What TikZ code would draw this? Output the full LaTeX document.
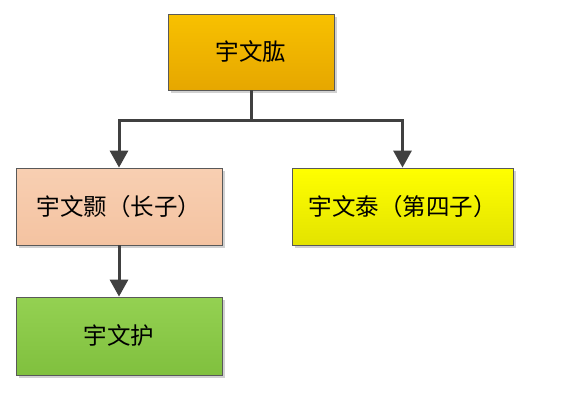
\documentclass[tikz,border=0pt]{standalone}
\usepackage{fontspec}
\setmainfont{Noto Sans CJK SC}
\usetikzlibrary{calc,shapes,shadows,arrows.meta}

\definecolor{toptop}{HTML}{F8C100}
\definecolor{topbot}{HTML}{E6A700}
\definecolor{peachtop}{HTML}{F8CFB2}
\definecolor{peachbot}{HTML}{F4C3A1}
\definecolor{yeltop}{HTML}{FFFF00}
\definecolor{yelbot}{HTML}{E3E300}
\definecolor{greentop}{HTML}{94D152}
\definecolor{greenbot}{HTML}{80C03E}
\definecolor{linkgray}{HTML}{404040}

\tikzset{
  person/.style={rectangle,draw=black!65,line width=0.8pt,inner sep=0pt,
    font=\fontsize{23.5}{23.5}\selectfont,
    drop shadow={shadow xshift=3pt,shadow yshift=-3pt,fill=black!18,opacity=1}},
  link/.style={draw=linkgray,line width=3pt},
  arr/.style={link,-{Triangle[width=18pt,length=17pt]}}
}

\begin{document}
\begin{tikzpicture}[x=1pt,y=-1pt]
\useasboundingbox[fill=white] (0,0) rectangle (571,408);
% boxes
\node[person,minimum width=166pt,minimum height=76pt,top color=toptop,bottom color=topbot] (father) at (251,52) {宇文肱};
\node[person,minimum width=206pt,minimum height=77pt,top color=peachtop,bottom color=peachbot] (eldest) at (119,206.5) {宇文颢（长子）};
\node[person,minimum width=221pt,minimum height=77pt,top color=yeltop,bottom color=yelbot] (fourth) at (402.5,206.5) {宇文泰（第四子）};
\node[person,minimum width=206pt,minimum height=78pt,top color=greentop,bottom color=greenbot] (grandson) at (119,336) {宇文护};
% links
\coordinate (split) at (251,120);
\draw[link] (father.south) -- (split);
\draw[arr] (split) -| (eldest.north);
\draw[arr] (split) -| (fourth.north);
\draw[arr] (eldest.south) -- (grandson.north);
\end{tikzpicture}
\end{document}
